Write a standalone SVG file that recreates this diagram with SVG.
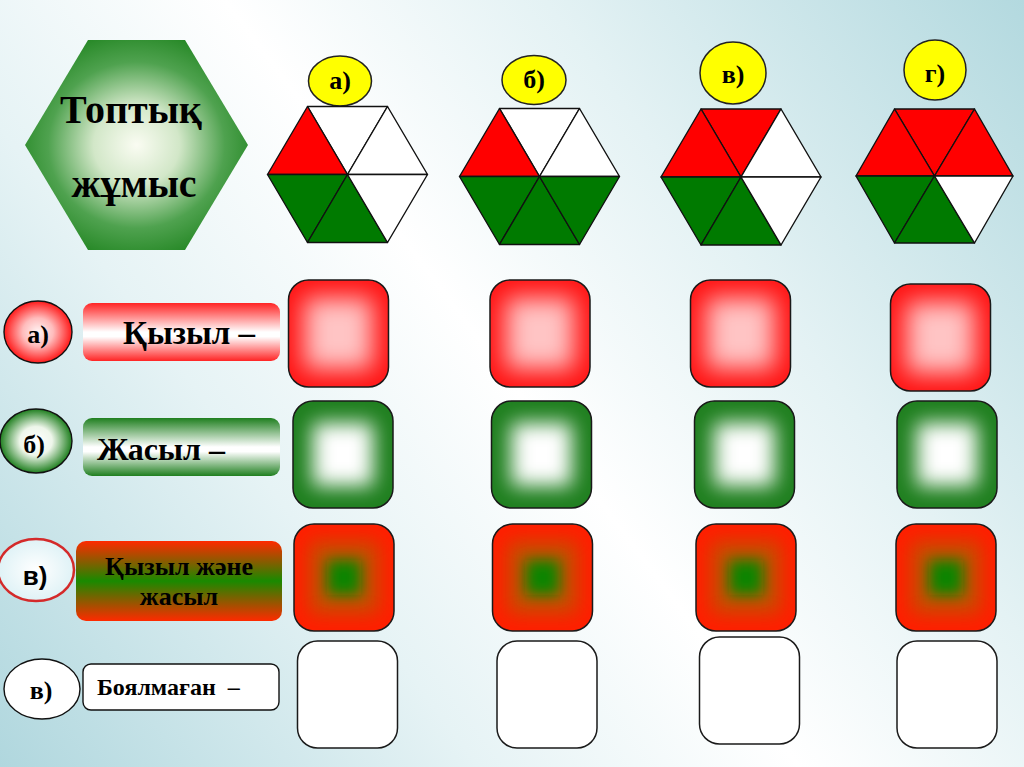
<svg xmlns="http://www.w3.org/2000/svg" width="1024" height="767" viewBox="0 0 1024 767">
  <defs>
    <linearGradient id="bg" x1="1024" y1="0" x2="0" y2="767" gradientUnits="userSpaceOnUse">
      <stop offset="0" stop-color="#b3d9df"/>
      <stop offset="0.3" stop-color="#e4f2f4"/>
      <stop offset="0.5" stop-color="#ffffff"/>
      <stop offset="0.7" stop-color="#e6f3f5"/>
      <stop offset="1" stop-color="#b0d7de"/>
    </linearGradient>
    <radialGradient id="bigHexG" cx="0.5" cy="0.5" r="0.55">
      <stop offset="0" stop-color="#fafcf2"/>
      <stop offset="0.35" stop-color="#d2e7c8"/>
      <stop offset="0.72" stop-color="#4fa24f"/>
      <stop offset="1" stop-color="#268826"/>
    </radialGradient>
    <radialGradient id="redEll" cx="0.5" cy="0.5" r="0.5">
      <stop offset="0" stop-color="#fff4f4"/>
      <stop offset="0.45" stop-color="#ffbcbc"/>
      <stop offset="1" stop-color="#ff1a1a"/>
    </radialGradient>
    <radialGradient id="greenEll" cx="0.5" cy="0.5" r="0.5">
      <stop offset="0" stop-color="#ffffff"/>
      <stop offset="0.45" stop-color="#eef6ea"/>
      <stop offset="1" stop-color="#1f7f1f"/>
    </radialGradient>
    <radialGradient id="blueEll" cx="0.5" cy="0.5" r="0.5">
      <stop offset="0" stop-color="#ffffff"/>
      <stop offset="1" stop-color="#dff2f6"/>
    </radialGradient>
    <linearGradient id="redBar" x1="0" y1="0" x2="0" y2="1">
      <stop offset="0" stop-color="#ff2424"/>
      <stop offset="0.5" stop-color="#ffffff"/>
      <stop offset="0.58" stop-color="#ffffff"/>
      <stop offset="1" stop-color="#ff2424"/>
    </linearGradient>
    <linearGradient id="greenBar" x1="0" y1="0" x2="0" y2="1">
      <stop offset="0" stop-color="#1f7f1f"/>
      <stop offset="0.5" stop-color="#ffffff"/>
      <stop offset="0.58" stop-color="#ffffff"/>
      <stop offset="1" stop-color="#1f7f1f"/>
    </linearGradient>
    <linearGradient id="mixBar" x1="0" y1="0" x2="0" y2="1">
      <stop offset="0" stop-color="#ff2a00"/>
      <stop offset="0.5" stop-color="#198a00"/>
      <stop offset="1" stop-color="#ff2a00"/>
    </linearGradient>
    <filter id="blur12" x="-50%" y="-50%" width="200%" height="200%"><feGaussianBlur stdDeviation="12"/></filter>
    <filter id="blur10" x="-50%" y="-50%" width="200%" height="200%"><feGaussianBlur stdDeviation="10"/></filter>
    <filter id="blur7" x="-50%" y="-50%" width="200%" height="200%"><feGaussianBlur stdDeviation="7"/></filter>
    <clipPath id="sqClip"><rect x="0" y="0" width="100" height="107" rx="20"/></clipPath>
    <style>
      .serif{font-family:"Liberation Serif","DejaVu Serif",serif;font-weight:bold;fill:#000}
      .sans{font-family:"Liberation Sans","DejaVu Sans",sans-serif;font-weight:bold;fill:#000}
      .edge{stroke:#111;stroke-width:1.4;stroke-linejoin:round}
      .sq{stroke:#1a1a1a;stroke-width:1.5;fill:none}
      .R{fill:#ff0000}
      .G{fill:#007a00}
      .W{fill:#ffffff}
      .yel{fill:#ffff00;stroke:#222;stroke-width:1.5}
    </style>
  </defs>

  <rect x="0" y="0" width="1024" height="767" fill="url(#bg)"/>

  <!-- Title hexagon -->
  <g id="title">
    <polygon points="88,40 185,40 248,145 185,250 88,250 25,145" fill="url(#bigHexG)"/>
    <text class="serif" x="131" y="123" font-size="40" text-anchor="middle">Топтық</text>
    <text class="serif" x="134" y="197" font-size="40" text-anchor="middle">жұмыс</text>
  </g>

  <!-- Top labels -->
  <g id="lab-a"><ellipse class="yel" cx="340" cy="81" rx="31.5" ry="25"/><text class="serif" x="340" y="89" font-size="26" text-anchor="middle">а)</text></g>
  <g id="lab-b"><ellipse class="yel" cx="534" cy="80" rx="32" ry="24.5"/><text class="serif" x="534" y="88" font-size="26" text-anchor="middle">б)</text></g>
  <g id="lab-v"><ellipse class="yel" cx="733" cy="73" rx="33" ry="31"/><text class="serif" x="733" y="83" font-size="26" text-anchor="middle">в)</text></g>
  <g id="lab-g"><ellipse class="yel" cx="935" cy="70" rx="31" ry="30"/><text class="serif" x="935" y="82" font-size="26" text-anchor="middle">г)</text></g>

  <!-- Hexagons: triangles relative to center -->
  <g id="hex-a" transform="translate(347.5,174.5)" class="edge">
    <polygon class="W" points="-40,-68 40,-68 0,0"/>
    <polygon class="R" points="-40,-68 -80,0 0,0"/>
    <polygon class="W" points="40,-68 80,0 0,0"/>
    <polygon class="G" points="-80,0 -40,68 0,0"/>
    <polygon class="G" points="-40,68 40,68 0,0"/>
    <polygon class="W" points="40,68 80,0 0,0"/>
  </g>
  <g id="hex-b" transform="translate(539.5,176.5)" class="edge">
    <polygon class="W" points="-40,-68 40,-68 0,0"/>
    <polygon class="R" points="-40,-68 -80,0 0,0"/>
    <polygon class="W" points="40,-68 80,0 0,0"/>
    <polygon class="G" points="-80,0 -40,68 0,0"/>
    <polygon class="G" points="-40,68 40,68 0,0"/>
    <polygon class="G" points="40,68 80,0 0,0"/>
  </g>
  <g id="hex-v" transform="translate(741,177)" class="edge">
    <polygon class="R" points="-40,-68 40,-68 0,0"/>
    <polygon class="R" points="-40,-68 -80,0 0,0"/>
    <polygon class="W" points="40,-68 80,0 0,0"/>
    <polygon class="G" points="-80,0 -40,68 0,0"/>
    <polygon class="G" points="-40,68 40,68 0,0"/>
    <polygon class="W" points="40,68 80,0 0,0"/>
  </g>
  <g id="hex-g" transform="translate(934.5,176)" class="edge">
    <polygon class="R" points="-40,-67 40,-67 0,0"/>
    <polygon class="R" points="-40,-67 -78.5,0 0,0"/>
    <polygon class="R" points="40,-67 78.5,0 0,0"/>
    <polygon class="G" points="-78.5,0 -40,67 0,0"/>
    <polygon class="G" points="-40,67 40,67 0,0"/>
    <polygon class="W" points="40,67 78.5,0 0,0"/>
  </g>

  <!-- Row labels -->
  <g id="row-a">
    <ellipse cx="38" cy="332" rx="34" ry="31" fill="url(#redEll)" class="edge"/>
    <text class="serif" x="38" y="343" font-size="26" text-anchor="middle">а)</text>
    <rect x="83" y="303" width="197" height="58" rx="9" fill="url(#redBar)"/>
    <text class="serif" x="123" y="344" font-size="33">Қызыл –</text>
  </g>
  <g id="row-b">
    <ellipse cx="36" cy="441" rx="36" ry="32" fill="url(#greenEll)" class="edge"/>
    <text class="serif" x="34" y="453" font-size="26" text-anchor="middle">б)</text>
    <rect x="83" y="418" width="197" height="58" rx="9" fill="url(#greenBar)"/>
    <text class="serif" x="97" y="460" font-size="32">Жасыл –</text>
  </g>
  <g id="row-v">
    <ellipse cx="36" cy="570" rx="38" ry="31" fill="url(#blueEll)" stroke="#d42a2a" stroke-width="2.5"/>
    <text class="sans" x="35" y="585" font-size="26" text-anchor="middle">в)</text>
    <rect x="76" y="541" width="206" height="80" rx="10" fill="url(#mixBar)"/>
    <text class="serif" x="179" y="575" font-size="26" text-anchor="middle" fill="#111">Қызыл және</text>
    <text class="serif" x="179" y="605" font-size="26" text-anchor="middle" fill="#111">жасыл</text>
  </g>
  <g id="row-none">
    <ellipse cx="42" cy="689" rx="38" ry="30" fill="#ffffff" class="edge"/>
    <text class="serif" x="41" y="699" font-size="26" text-anchor="middle">в)</text>
    <rect x="83" y="664" width="196" height="46" rx="8" fill="#ffffff" class="edge"/>
    <text class="serif" x="97" y="695" font-size="24" xml:space="preserve">Боялмаған  –</text>
  </g>

  <!-- Red squares -->
  <g id="red-1" transform="translate(288.5,280)"><g clip-path="url(#sqClip)"><rect width="100" height="107" fill="#ff1414"/><rect x="16" y="18" width="68" height="71" fill="#ffc4c4" filter="url(#blur12)"/></g><rect class="sq" width="100" height="107" rx="20"/></g>
  <g id="red-2" transform="translate(490,280)"><g clip-path="url(#sqClip)"><rect width="100" height="107" fill="#ff1414"/><rect x="16" y="18" width="68" height="71" fill="#ffc4c4" filter="url(#blur12)"/></g><rect class="sq" width="100" height="107" rx="20"/></g>
  <g id="red-3" transform="translate(690.5,280)"><g clip-path="url(#sqClip)"><rect width="100" height="107" fill="#ff1414"/><rect x="16" y="18" width="68" height="71" fill="#ffc4c4" filter="url(#blur12)"/></g><rect class="sq" width="100" height="107" rx="20"/></g>
  <g id="red-4" transform="translate(890.5,284)"><g clip-path="url(#sqClip)"><rect width="100" height="107" fill="#ff1414"/><rect x="16" y="18" width="68" height="71" fill="#ffc4c4" filter="url(#blur12)"/></g><rect class="sq" width="100" height="107" rx="20"/></g>

  <!-- Green squares -->
  <g id="green-1" transform="translate(293,401)"><g clip-path="url(#sqClip)"><rect width="100" height="107" fill="#1f7f1f"/><rect x="20" y="22" width="60" height="63" fill="#ffffff" filter="url(#blur10)"/></g><rect class="sq" width="100" height="107" rx="20"/></g>
  <g id="green-2" transform="translate(491.5,401)"><g clip-path="url(#sqClip)"><rect width="100" height="107" fill="#1f7f1f"/><rect x="20" y="22" width="60" height="63" fill="#ffffff" filter="url(#blur10)"/></g><rect class="sq" width="100" height="107" rx="20"/></g>
  <g id="green-3" transform="translate(694.5,401)"><g clip-path="url(#sqClip)"><rect width="100" height="107" fill="#1f7f1f"/><rect x="20" y="22" width="60" height="63" fill="#ffffff" filter="url(#blur10)"/></g><rect class="sq" width="100" height="107" rx="20"/></g>
  <g id="green-4" transform="translate(897,401)"><g clip-path="url(#sqClip)"><rect width="100" height="107" fill="#1f7f1f"/><rect x="20" y="22" width="60" height="63" fill="#ffffff" filter="url(#blur10)"/></g><rect class="sq" width="100" height="107" rx="20"/></g>

  <!-- Mixed squares -->
  <g id="mix-1" transform="translate(294,524)"><g clip-path="url(#sqClip)"><rect width="100" height="107" fill="#ff1e00"/><rect x="16" y="18" width="68" height="71" fill="#c05200" filter="url(#blur10)"/><rect x="33" y="36" width="34" height="35" fill="#108400" filter="url(#blur7)"/></g><rect class="sq" width="100" height="107" rx="20"/></g>
  <g id="mix-2" transform="translate(492.5,524)"><g clip-path="url(#sqClip)"><rect width="100" height="107" fill="#ff1e00"/><rect x="16" y="18" width="68" height="71" fill="#c05200" filter="url(#blur10)"/><rect x="33" y="36" width="34" height="35" fill="#108400" filter="url(#blur7)"/></g><rect class="sq" width="100" height="107" rx="20"/></g>
  <g id="mix-3" transform="translate(696,524)"><g clip-path="url(#sqClip)"><rect width="100" height="107" fill="#ff1e00"/><rect x="16" y="18" width="68" height="71" fill="#c05200" filter="url(#blur10)"/><rect x="33" y="36" width="34" height="35" fill="#108400" filter="url(#blur7)"/></g><rect class="sq" width="100" height="107" rx="20"/></g>
  <g id="mix-4" transform="translate(896,524)"><g clip-path="url(#sqClip)"><rect width="100" height="107" fill="#ff1e00"/><rect x="16" y="18" width="68" height="71" fill="#c05200" filter="url(#blur10)"/><rect x="33" y="36" width="34" height="35" fill="#108400" filter="url(#blur7)"/></g><rect class="sq" width="100" height="107" rx="20"/></g>

  <!-- White squares -->
  <g id="white-1" transform="translate(297.5,641)"><rect class="sq" width="100" height="107" rx="20" style="fill:#ffffff"/></g>
  <g id="white-2" transform="translate(497,641)"><rect class="sq" width="100" height="107" rx="20" style="fill:#ffffff"/></g>
  <g id="white-3" transform="translate(699.5,637)"><rect class="sq" width="100" height="107" rx="20" style="fill:#ffffff"/></g>
  <g id="white-4" transform="translate(897,641)"><rect class="sq" width="100" height="107" rx="20" style="fill:#ffffff"/></g>
</svg>
